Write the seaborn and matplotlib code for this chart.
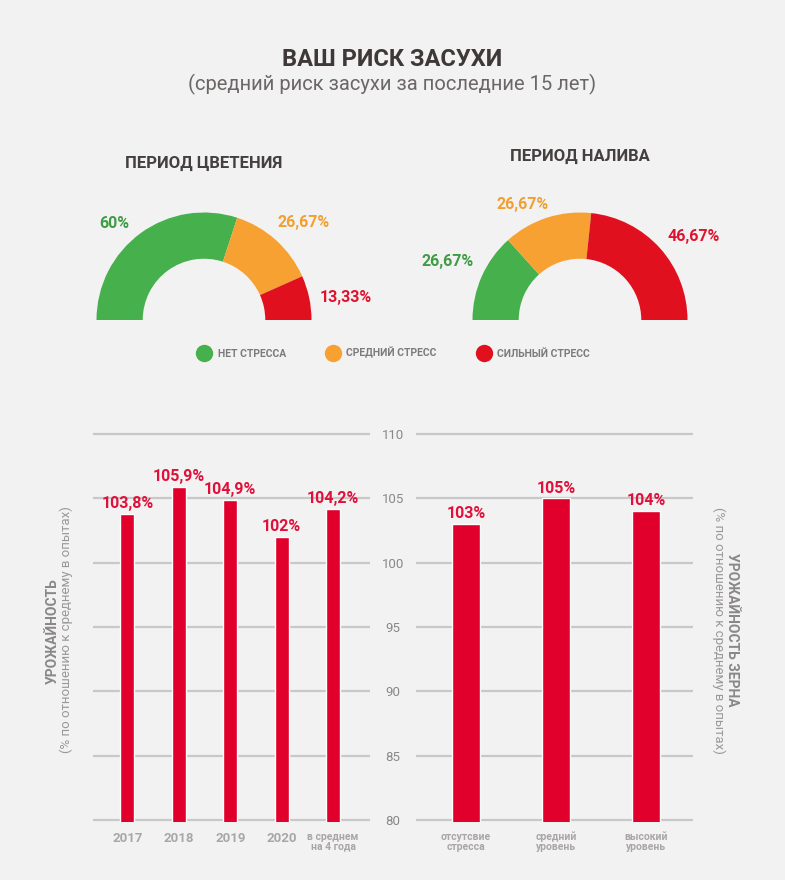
import matplotlib
matplotlib.use("Agg")
import matplotlib.pyplot as plt
from matplotlib.lines import Line2D
import seaborn as sns
import pandas as pd

# ---------------- data ----------------
title = "ВАШ РИСК ЗАСУХИ"
subtitle = "(средний риск засухи за последние 15 лет)"

stress_labels = ["НЕТ СТРЕССА", "СРЕДНИЙ СТРЕСС", "СИЛЬНЫЙ СТРЕСС"]
bloom_title = "ПЕРИОД ЦВЕТЕНИЯ"
bloom_values = [60, 26.67, 13.33]
fill_title = "ПЕРИОД НАЛИВА"
fill_values = [26.67, 26.67, 46.67]

years = ["2017", "2018", "2019", "2020", "в среднем\nна 4 года"]
year_yield = [103.8, 105.9, 104.9, 102, 104.2]

stress_levels = ["отсутсвие\nстресса", "средний\nуровень", "высокий\nуровень"]
grain_yield = [103, 105, 104]

y_ticks = [80, 85, 90, 95, 100, 105, 110]

# ---------------- style ----------------
BG = "#f3f2f2"
GAUGE_COLORS = ["#45b04c", "#f6a131", "#e1101f"]
LABEL_COLORS = ["#3f9c44", "#f0a033", "#e0132f"]
BAR_RED = "#e0002b"
TXT_RED = "#e0103a"

sns.set_theme(style="white")
plt.rcParams["font.family"] = ["Roboto", "DejaVu Sans"]

W, H = 785, 880
fig = plt.figure(figsize=(W / 100, H / 100), dpi=100, facecolor=BG)


def fx(x):
    return x / W


def fy(y):
    return 1 - y / H


def fmt(v):
    s = f"{v:g}".replace(".", ",")
    return s + "%"


# titles
fig.text(fx(392), fy(60), title, ha="center", va="center", fontsize=17,
         fontweight="bold", color="#3e3838")
fig.text(fx(392), fy(84), subtitle, ha="center", va="center", fontsize=14.5,
         color="#6b6767")

# ---------------- gauges ----------------
R_PX = 107.5
HALF = 122


def gauge(cx, cy, values, gtitle, title_y, label_pos):
    ax = fig.add_axes([fx(cx - HALF), fy(cy + HALF), 2 * HALF / W, 2 * HALF / H])
    ax.set_facecolor("none")
    vals = list(values) + [sum(values)]
    cols = GAUGE_COLORS + ["none"]
    ax.pie(vals, colors=cols, startangle=180, counterclock=False, radius=1,
           wedgeprops=dict(width=0.43, linewidth=0))
    lim = HALF / R_PX
    ax.set_xlim(-lim, lim)
    ax.set_ylim(-lim, lim)
    ax.axis("off")
    fig.text(fx(cx), fy(title_y), gtitle, ha="center", va="center",
             fontsize=12, fontweight="bold", color="#444040")
    for v, (lx, ly), c in zip(values, label_pos, LABEL_COLORS):
        fig.text(fx(lx), fy(ly), fmt(v), ha="center", va="center",
                 fontsize=11.5, fontweight="bold", color=c)


gauge(204, 320, bloom_values, bloom_title, 163,
      [(114, 223), (304, 222), (346, 297)])
gauge(580, 320, fill_values, fill_title, 156,
      [(448, 261), (523, 205), (694, 237)])

# legend
handles = [Line2D([0], [0], marker="o", linestyle="none", markersize=12.5,
                  markerfacecolor=c, markeredgewidth=0) for c in GAUGE_COLORS]
leg = fig.legend(handles, stress_labels, loc="center", ncol=3,
                 bbox_to_anchor=(fx(393), fy(353)), frameon=False,
                 handlelength=1.6, handletextpad=0.5, columnspacing=3.7,
                 prop=dict(size=7.5, weight="bold"))
for t in leg.get_texts():
    t.set_color("#7d7a7a")

# ---------------- bar charts ----------------
PPU = 386 / 30.0  # pixels per unit
y0, y1 = 79.85, 110.15
top_px = 434 - (y1 - 110) * PPU
bot_px = 820 + (80 - y0) * PPU


def bar_axes(left_px, right_px):
    ax = fig.add_axes([fx(left_px), fy(bot_px), (right_px - left_px) / W,
                       (bot_px - top_px) / H])
    ax.set_facecolor("none")
    return ax


ax1 = bar_axes(93, 370)
df1 = pd.DataFrame({"cat": years, "val": year_yield})
sns.barplot(data=df1, x="cat", y="val", color=BAR_RED, saturation=1,
            width=0.27, errorbar=None, ax=ax1, zorder=3)
ax1.set_xlim(-0.67, 4.72)

ax2 = bar_axes(415.7, 692.7)
df2 = pd.DataFrame({"cat": stress_levels, "val": grain_yield})
sns.barplot(data=df2, x="cat", y="val", color=BAR_RED, saturation=1,
            width=0.32, errorbar=None, ax=ax2, zorder=3)
ax2.set_xlim(-0.56, 2.52)

for ax, vals in [(ax1, year_yield), (ax2, grain_yield)]:
    ax.set_ylim(y0, y1)
    ax.set_yticks(y_ticks)
    ax.grid(axis="y", color="#c9c8c8", linewidth=1.6)
    ax.grid(axis="x", visible=False)
    ax.set_axisbelow(True)
    for s in ax.spines.values():
        s.set_visible(False)
    ax.set_xlabel("")
    ax.set_ylabel("")
    ax.tick_params(axis="both", length=0)
    ax.bar_label(ax.containers[0], labels=[fmt(v) for v in vals], padding=2,
                 color=TXT_RED, fontsize=11.5, fontweight="bold")

# y tick labels between the two charts
ax1.yaxis.tick_right()
ax1.tick_params(axis="y", pad=16.5, labelsize=9.5, labelcolor="#8a8787")
for t in ax1.get_yticklabels():
    t.set_horizontalalignment("center")
ax2.set_yticklabels([])

# x tick labels
ax1.tick_params(axis="x", pad=7, labelcolor="#a9a6a6", labelsize=9.5)
for t in ax1.get_xticklabels():
    t.set_fontweight("bold")
    if "\n" in t.get_text():
        t.set_fontsize(7.5)
        t.set_linespacing(1.0)
ax2.tick_params(axis="x", pad=7, labelcolor="#a9a6a6", labelsize=7.5)
for t in ax2.get_xticklabels():
    t.set_fontweight("bold")
    t.set_linespacing(1.0)

# axis titles
fig.text(fx(52.5), fy(631), "УРОЖАЙНОСТЬ", rotation=90, ha="center",
         va="center", fontsize=10, fontweight="bold", color="#8a8787")
fig.text(fx(66), fy(630), "(% по отношению к среднему в опытах)", rotation=90,
         ha="center", va="center", fontsize=9.5, color="#9a9797")
fig.text(fx(732), fy(630), "УРОЖАЙНОСТЬ ЗЕРНА", rotation=270, ha="center",
         va="center", fontsize=10, fontweight="bold", color="#8a8787")
fig.text(fx(719), fy(630), "(% по отношению к среднему в опытах)", rotation=270,
         ha="center", va="center", fontsize=9.5, color="#9a9797")

fig.savefig("out.png", dpi=100, facecolor=BG)
